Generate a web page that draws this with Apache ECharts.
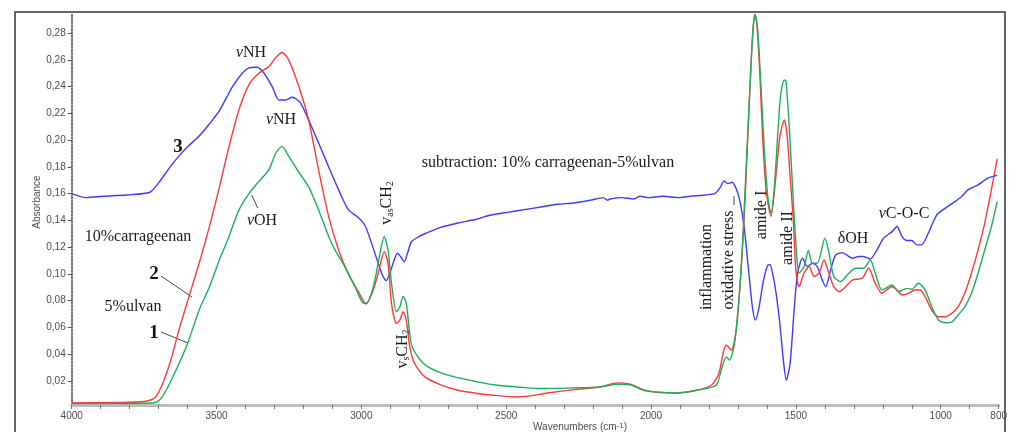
<!DOCTYPE html>
<html>
<head>
<meta charset="utf-8">
<script src="https://cdn.jsdelivr.net/npm/echarts@6/dist/echarts.min.js"></script>
<style>
  html, body { margin: 0; padding: 0; background: #fff; }
  #chart { width: 1010px; height: 432px; }
</style>
</head>
<body>
<div id="chart"></div>
<script>
// spectra: [wavenumber cm-1, absorbance]
const subtraction = [
  [4000, 0.160], [3950, 0.157], [3890, 0.158], [3810, 0.159], [3730, 0.161], [3700, 0.168],
  [3660, 0.180], [3630, 0.188], [3600, 0.195], [3560, 0.203], [3525, 0.212], [3490, 0.222],
  [3445, 0.240], [3411, 0.250], [3388, 0.254], [3360, 0.2545], [3336, 0.250], [3308, 0.240],
  [3285, 0.230], [3262, 0.230], [3239, 0.232], [3211, 0.228], [3182, 0.215], [3148, 0.198],
  [3113, 0.180], [3079, 0.163], [3045, 0.148], [3010, 0.142], [2987, 0.136], [2965, 0.123],
  [2942, 0.108], [2925, 0.098], [2914, 0.095], [2902, 0.1005], [2884, 0.112], [2876, 0.1155],
  [2865, 0.113], [2852, 0.109], [2840, 0.116], [2827, 0.124], [2800, 0.128], [2781, 0.130],
  [2724, 0.135], [2667, 0.138], [2600, 0.141], [2553, 0.144], [2496, 0.146], [2438, 0.148],
  [2381, 0.150], [2324, 0.152], [2267, 0.153], [2210, 0.155], [2165, 0.157], [2150, 0.155],
  [2141, 0.156], [2100, 0.157], [2060, 0.156], [2038, 0.158], [2009, 0.157], [1960, 0.158],
  [1900, 0.157], [1866, 0.158], [1781, 0.160], [1760, 0.165], [1748, 0.1695], [1735, 0.1675],
  [1720, 0.1685], [1705, 0.163], [1692, 0.153], [1678, 0.134], [1662, 0.100], [1650, 0.075],
  [1640, 0.0655], [1628, 0.074], [1612, 0.095], [1598, 0.106], [1590, 0.107], [1580, 0.100],
  [1568, 0.085], [1555, 0.062], [1543, 0.035], [1533, 0.0205], [1520, 0.033], [1506, 0.073],
  [1494, 0.1005], [1477, 0.1117], [1460, 0.1054], [1443, 0.108], [1426, 0.1054], [1409, 0.0954],
  [1397, 0.0904], [1380, 0.103], [1363, 0.114], [1340, 0.1159], [1305, 0.1117], [1283, 0.113],
  [1266, 0.113], [1243, 0.111], [1220, 0.118], [1197, 0.1267], [1168, 0.1316], [1151, 0.1354],
  [1134, 0.128], [1117, 0.1249], [1100, 0.125], [1083, 0.1217], [1066, 0.1217], [1043, 0.1304],
  [1014, 0.144], [985, 0.149], [951, 0.154], [928, 0.1578], [905, 0.163], [871, 0.1666],
  [837, 0.1716], [805, 0.1736]
]

const carrageenan = [
  [4000, 0.0035], [3800, 0.004], [3740, 0.005], [3710, 0.008], [3686, 0.018], [3657, 0.036],
  [3630, 0.058], [3595, 0.083], [3560, 0.108], [3525, 0.135], [3491, 0.164], [3457, 0.195],
  [3422, 0.223], [3388, 0.2415], [3354, 0.250], [3319, 0.255], [3296, 0.2615], [3274, 0.2655],
  [3251, 0.260], [3216, 0.240], [3182, 0.215], [3148, 0.178], [3113, 0.143], [3079, 0.118],
  [3045, 0.100], [3010, 0.0865], [2984, 0.0775], [2959, 0.088], [2942, 0.1005], [2921, 0.1166],
  [2908, 0.108], [2896, 0.078], [2879, 0.063], [2867, 0.0655], [2856, 0.0717], [2845, 0.0655],
  [2833, 0.0455], [2816, 0.033], [2781, 0.023], [2724, 0.0168], [2667, 0.013], [2599, 0.0106],
  [2530, 0.009], [2473, 0.008], [2427, 0.0085], [2358, 0.011], [2267, 0.0135], [2175, 0.0155],
  [2118, 0.0185], [2072, 0.0175], [2027, 0.0135], [1981, 0.0115], [1912, 0.011], [1843, 0.013],
  [1792, 0.0168], [1766, 0.0255], [1750, 0.042], [1740, 0.0467], [1723, 0.043], [1706, 0.058],
  [1689, 0.103], [1677, 0.148], [1666, 0.203], [1654, 0.260], [1646, 0.2877], [1641, 0.294],
  [1635, 0.2877], [1624, 0.2477], [1615, 0.203], [1603, 0.163], [1586, 0.143], [1569, 0.173],
  [1555, 0.203], [1540, 0.215], [1530, 0.203], [1520, 0.173], [1509, 0.140], [1500, 0.103],
  [1489, 0.0904], [1472, 0.1005], [1454, 0.1054], [1437, 0.098], [1420, 0.1005], [1403, 0.1104],
  [1386, 0.1005], [1369, 0.0904], [1351, 0.0867], [1328, 0.0904], [1305, 0.0954], [1271, 0.0967],
  [1249, 0.1042], [1226, 0.093], [1203, 0.0855], [1180, 0.0892], [1168, 0.0904], [1151, 0.088],
  [1134, 0.0842], [1111, 0.0855], [1089, 0.088], [1071, 0.088], [1054, 0.083], [1031, 0.073],
  [1008, 0.068], [985, 0.068], [962, 0.0705], [940, 0.0754], [917, 0.0855], [894, 0.1005],
  [871, 0.118], [848, 0.138], [825, 0.163], [805, 0.186]
]

const ulvan = [
  [4000, 0.003], [3720, 0.0035], [3697, 0.0055], [3674, 0.013], [3640, 0.028], [3600, 0.048],
  [3560, 0.073], [3525, 0.090], [3491, 0.110], [3457, 0.128], [3422, 0.148], [3388, 0.160],
  [3354, 0.169], [3319, 0.178], [3296, 0.190], [3274, 0.1953], [3251, 0.188], [3222, 0.178],
  [3182, 0.165], [3148, 0.148], [3113, 0.128], [3091, 0.118], [3056, 0.105], [3021, 0.090],
  [2992, 0.078], [2982, 0.078], [2959, 0.090], [2942, 0.108], [2921, 0.128], [2908, 0.118],
  [2896, 0.093], [2879, 0.0717], [2867, 0.0754], [2856, 0.0834], [2845, 0.078], [2828, 0.048],
  [2805, 0.038], [2770, 0.0305], [2701, 0.0243], [2599, 0.0193], [2530, 0.0168], [2462, 0.0155],
  [2381, 0.0143], [2267, 0.0148], [2175, 0.0155], [2118, 0.0175], [2072, 0.017], [2027, 0.013],
  [1981, 0.0118], [1912, 0.011], [1843, 0.013], [1775, 0.0168], [1758, 0.028], [1740, 0.038],
  [1729, 0.0355], [1712, 0.048], [1695, 0.0855], [1683, 0.128], [1672, 0.178], [1660, 0.2327],
  [1649, 0.280], [1641, 0.294], [1632, 0.283], [1620, 0.2377], [1609, 0.193], [1597, 0.158],
  [1586, 0.1454], [1575, 0.163], [1563, 0.203], [1552, 0.235], [1540, 0.245], [1534, 0.244],
  [1523, 0.210], [1511, 0.163], [1500, 0.123], [1489, 0.1005], [1472, 0.1054], [1457, 0.1174],
  [1443, 0.108], [1426, 0.108], [1400, 0.1267], [1386, 0.1159], [1369, 0.098], [1346, 0.0942],
  [1317, 0.1005], [1294, 0.1042], [1266, 0.1042], [1243, 0.1104], [1226, 0.1005], [1203, 0.088],
  [1168, 0.0917], [1146, 0.0867], [1117, 0.0892], [1100, 0.0885], [1077, 0.093], [1054, 0.088],
  [1031, 0.0754], [1008, 0.0655], [985, 0.0635], [962, 0.064], [940, 0.0692], [917, 0.0754],
  [894, 0.0855], [871, 0.1005], [848, 0.118], [825, 0.1354], [805, 0.154]
]

const yTicks = [0.02, 0.04, 0.06, 0.08, 0.10, 0.12, 0.14, 0.16, 0.18, 0.20, 0.22, 0.24, 0.26, 0.28]
const xLabels = [4000, 3500, 3000, 2500, 2000, 1500, 1000, 800]

const SERIF = '"Liberation Serif", "DejaVu Serif", serif'
const SANS = '"Liberation Sans", Arial, sans-serif'

const chart = echarts.init(document.getElementById('chart'))

const note = (x, y, text, extra) => Object.assign({
  type: 'text',
  x, y,
  style: {
    text,
    fontFamily: SERIF,
    fontSize: 16,
    fill: '#1a1a1a',
    align: 'center',
    verticalAlign: 'middle',
    rich: {
      it: { fontFamily: SERIF, fontSize: 16, fontStyle: 'italic', fill: '#1a1a1a' },
      n: { fontFamily: SERIF, fontSize: 16, fill: '#1a1a1a' },
      sub: { fontFamily: SERIF, fontSize: 10, fill: '#1a1a1a', verticalAlign: 'bottom', padding: [6, 0, 0, 0] }
    }
  }
}, extra || {})

const leader = (x1, y1, x2, y2) => ({
  type: 'line',
  shape: { x1, y1, x2, y2 },
  style: { stroke: '#444', lineWidth: 1 }
})

const option = {
  animation: false,
  grid: { left: 71.7, right: 6, top: 13, bottom: 27 },
  xAxis: {
    type: 'value',
    inverse: true,
    min: 800,
    max: 4000,
    interval: 100,
    axisLine: { lineStyle: { color: '#bdbdbd', width: 3 } },
    axisTick: { length: 4, lineStyle: { color: '#777' } },
    axisLabel: {
      margin: 6,
      fontFamily: SANS,
      fontSize: 10,
      color: '#4a4a5c',
      formatter: v => xLabels.indexOf(v) >= 0 ? String(v) : ''
    },
    splitLine: { show: false }
  },
  yAxis: {
    type: 'value',
    min: 0.002,
    max: 0.295,
    axisLine: { show: true, lineStyle: { color: '#444', width: 1.5, type: [2, 1.5] } },
    axisTick: { show: true, length: 4, customValues: yTicks, lineStyle: { color: '#555' } },
    axisLabel: {
      customValues: yTicks,
      margin: 6,
      fontFamily: SANS,
      fontSize: 10,
      color: '#4a4a5c',
      formatter: v => v.toFixed(2).replace('.', ',')
    },
    splitLine: { show: false }
  },
  series: [
    {
      name: '3',
      type: 'line',
      data: subtraction,
      smooth: 0.25,
      symbol: 'none',
      lineStyle: { color: '#3c3cff', width: 1.4 }
    },
    {
      name: '2',
      type: 'line',
      data: carrageenan,
      smooth: 0.25,
      symbol: 'none',
      lineStyle: { color: '#ff3838', width: 1.4 }
    },
    {
      name: '1',
      type: 'line',
      data: ulvan,
      smooth: 0.25,
      symbol: 'none',
      lineStyle: { color: '#1cae5a', width: 1.4 }
    }
  ],
  graphic: [
    // frame around the whole figure
    {
      type: 'rect',
      shape: { x: 15, y: 12, width: 990, height: 440 },
      style: { fill: 'none', stroke: '#333', lineWidth: 1.5 },
      silent: true
    },
    {
      type: 'text', x: 37, y: 202, rotation: Math.PI / 2,
      style: { text: 'Absorbance', fontFamily: SANS, fontSize: 10, fill: '#4a4a5c', align: 'center', verticalAlign: 'middle' }
    },
    {
      type: 'text', x: 580, y: 427,
      style: {
        text: 'Wavenumbers (cm{s|-1})',
        fontFamily: SANS, fontSize: 10, fill: '#4a4a5c', align: 'center', verticalAlign: 'middle',
        rich: { s: { fontFamily: SANS, fontSize: 8, fill: '#4a4a5c', verticalAlign: 'top' } }
      }
    },
    note(178, 147, '3', { style: { text: '3', fontFamily: SERIF, fontSize: 19, fontWeight: 'bold', fill: '#111', align: 'center', verticalAlign: 'middle' } }),
    note(154, 274, '2', { style: { text: '2', fontFamily: SERIF, fontSize: 19, fontWeight: 'bold', fill: '#111', align: 'center', verticalAlign: 'middle' } }),
    note(154, 333, '1', { style: { text: '1', fontFamily: SERIF, fontSize: 19, fontWeight: 'bold', fill: '#111', align: 'center', verticalAlign: 'middle' } }),
    leader(161, 276, 192, 297),
    leader(161, 332, 188, 343),
    leader(251.7, 195, 257.7, 208),
    leader(734, 196, 734, 205),
    note(138, 237, '10%carrageenan'),
    note(133, 307, '5%ulvan'),
    note(251, 53, '{it|v}{n|NH}'),
    note(281, 120, '{it|v}{n|NH}'),
    note(262, 221, '{it|v}{n|OH}'),
    note(548, 163, 'subtraction: 10% carrageenan-5%ulvan'),
    note(387, 203, '{n|v}{sub|as}{n|CH}{sub|2}', { rotation: Math.PI / 2 }),
    note(403, 349, '{n|v}{sub|s}{n|CH}{sub|2}', { rotation: Math.PI / 2 }),
    note(707, 267, 'inflammation', { rotation: Math.PI / 2 }),
    note(729, 260, 'oxidative stress', { rotation: Math.PI / 2 }),
    note(762, 215, 'amide I', { rotation: Math.PI / 2 }),
    note(788, 238, 'amide II', { rotation: Math.PI / 2 }),
    note(853, 239, 'δOH'),
    note(904, 214, '{it|v}{n|C-O-C}')
  ]
}

chart.setOption(option)
</script>
</body>
</html>
